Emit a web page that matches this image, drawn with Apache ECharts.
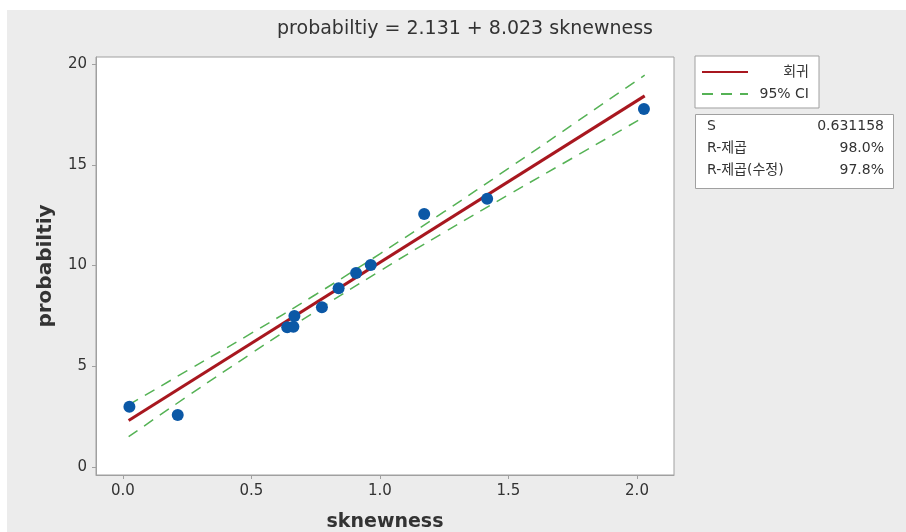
<!DOCTYPE html>
<html>
<head>
<meta charset="utf-8">
<script src="https://cdn.jsdelivr.net/npm/echarts@6/dist/echarts.min.js"></script>
<style>
  html, body { margin: 0; padding: 0; background: #fff; }
  #chart { position: absolute; left: 7px; top: 10px; width: 899px; height: 522px; background: #ececec; }
</style>
</head>
<body>
<div id="chart"></div>
<script>
// observed points (skewness, probability)
const skewness = [0.025, 0.213, 0.639, 0.667, 0.663, 0.774, 0.839, 0.907, 0.964, 1.172, 1.417, 2.027];
const probability = [2.99, 2.58, 6.93, 7.49, 6.96, 7.93, 8.87, 9.63, 10.02, 12.56, 13.31, 17.77];

// fitted line end points
const fitX = [0.022, 2.03];
const fitY = [2.31, 18.42];

// 95% confidence band
const ciX = [0.022, 0.25, 0.5, 0.75, 1.0, 1.25, 1.5, 1.75, 2.03];
const ciUpper = [3.08, 4.78, 6.64, 8.56, 10.58, 12.67, 14.82, 17.0, 19.45];
const ciLower = [1.50, 3.50, 5.64, 7.73, 9.73, 11.65, 13.51, 15.34, 17.39];

const xTicks = [0, 0.5, 1, 1.5, 2];
const yTicks = [0, 5, 10, 15, 20];

const statLabels = ['S', 'R-제곱', 'R-제곱(수정)'];
const statValues = ['0.631158', '98.0%', '97.8%'];

const FONT = '"DejaVu Sans", "Noto Sans CJK KR", sans-serif';
const RED = '#a8171f';
const GREEN = '#55b255';
const BLUE = '#0b58a6';

const pairs = (xs, ys) => xs.map((x, i) => [x, ys[i]]);

const chart = echarts.init(document.getElementById('chart'));

// offsets: chart div sits at (7,10) in the page
const OX = 7, OY = 10;

const statGraphic = [
  {
    type: 'rect',
    left: 695 - OX, top: 114 - OY,
    shape: { width: 198, height: 74 },
    style: { fill: '#fff', stroke: '#a0a0a0', lineWidth: 1 }
  }
];
statLabels.forEach((label, i) => {
  statGraphic.push({
    type: 'text',
    left: 707 - OX, top: 119 - OY + i * 22,
    style: { text: label, font: '14px ' + FONT, fill: '#333' }
  });
  statGraphic.push({
    type: 'text',
    right: 906 - 884, top: 119 - OY + i * 22,
    style: { text: statValues[i], font: '14px ' + FONT, fill: '#333', align: 'right' }
  });
});

const option = {
  backgroundColor: '#ececec',
  animation: false,
  textStyle: { fontFamily: FONT },
  title: {
    text: 'probabiltiy = 2.131 + 8.023 sknewness',
    left: 460 - OX, top: 15 - OY,
    textAlign: 'center',
    textStyle: { fontSize: 19, fontWeight: 'normal', color: '#333', fontFamily: FONT }
  },
  legend: {
    data: ['회귀', '95% CI'],
    orient: 'vertical',
    left: 695 - OX, top: 56 - OY,
    backgroundColor: '#fff',
    borderColor: '#a0a0a0',
    borderWidth: 1,
    borderRadius: 0,
    padding: [9, 10, 7, 6],
    itemWidth: 46,
    itemHeight: 14,
    itemGap: 8,
    selectedMode: false,
    itemStyle: { opacity: 0 },
    formatter: '{a|{name}}',
    textStyle: {
      color: '#333',
      fontSize: 14,
      rich: { a: { width: 56, align: 'right', fontSize: 14, color: '#333', fontFamily: FONT } }
    }
  },
  grid: {
    left: 96 - OX, top: 57 - OY, width: 578, height: 418,
    outerBoundsMode: 'none',
    containLabel: false,
    show: true,
    backgroundColor: '#fff',
    borderColor: '#a0a0a0',
    borderWidth: 1
  },
  xAxis: {
    type: 'value',
    min: -0.105, max: 2.144,
    name: 'sknewness',
    nameLocation: 'middle',
    nameGap: 38,
    nameTextStyle: { fontSize: 19, fontWeight: 'bold', color: '#333', fontFamily: FONT },
    axisLine: { show: true, onZero: false, lineStyle: { color: '#a0a0a0' } },
    splitLine: { show: false },
    axisTick: { show: true, length: 4, lineStyle: { color: '#a0a0a0' }, customValues: xTicks },
    axisLabel: {
      color: '#333', fontSize: 15, margin: 9,
      customValues: xTicks,
      formatter: v => v.toFixed(1)
    }
  },
  yAxis: {
    type: 'value',
    min: -0.4, max: 20.35,
    name: 'probabiltiy',
    nameLocation: 'middle',
    nameGap: 40,
    nameTextStyle: { fontSize: 20, fontWeight: 'bold', color: '#333', fontFamily: FONT },
    axisLine: { show: true, onZero: false, lineStyle: { color: '#a0a0a0' } },
    splitLine: { show: false },
    axisTick: { show: true, length: 4, lineStyle: { color: '#a0a0a0' }, customValues: yTicks },
    axisLabel: { color: '#333', fontSize: 15, margin: 9, customValues: yTicks }
  },
  graphic: statGraphic,
  series: [
    {
      name: '95% CI',
      type: 'line',
      smooth: true,
      symbol: 'none',
      data: pairs(ciX, ciUpper),
      itemStyle: { color: GREEN },
      lineStyle: { color: GREEN, width: 1.5, type: [11, 8] },
      z: 2
    },
    {
      name: '95% CI',
      type: 'line',
      smooth: true,
      symbol: 'none',
      data: pairs(ciX, ciLower),
      itemStyle: { color: GREEN },
      lineStyle: { color: GREEN, width: 1.5, type: [11, 8] },
      z: 2
    },
    {
      name: '회귀',
      type: 'line',
      symbol: 'none',
      data: pairs(fitX, fitY),
      itemStyle: { color: RED },
      lineStyle: { color: RED, width: 3 },
      z: 3
    },
    {
      name: 'points',
      type: 'scatter',
      symbol: 'circle',
      symbolSize: 12,
      data: pairs(skewness, probability),
      itemStyle: { color: BLUE, opacity: 1 },
      z: 4
    }
  ]
};

chart.setOption(option);
</script>
</body>
</html>
